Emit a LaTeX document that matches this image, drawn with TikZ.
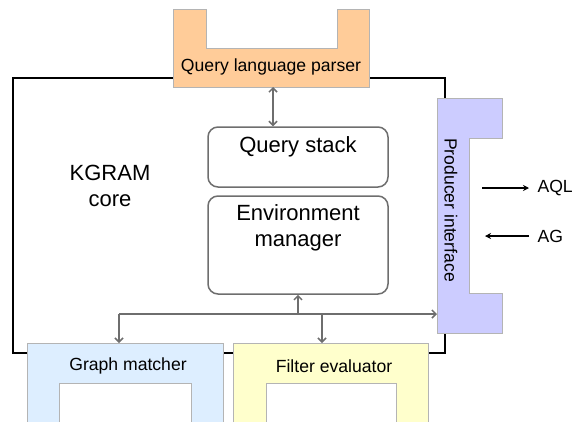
\documentclass[tikz,border=0pt]{standalone}
\usepackage{fontspec}
\setmainfont{Liberation Sans}
\usetikzlibrary{arrows.meta}
\definecolor{parserorange}{HTML}{FFCC99}
\definecolor{prodblue}{HTML}{CCCCFF}
\definecolor{matchblue}{HTML}{DDEEFF}
\definecolor{filteryellow}{HTML}{FFFFCC}
\definecolor{linkgray}{HTML}{6E6E6E}
\definecolor{edgegray}{HTML}{B4B4B4}
\begin{document}
\begin{tikzpicture}[x=1pt,y=-1pt,
  lbl/.style={font=\fontsize{17.6}{21}\selectfont},
  biglbl/.style={font=\fontsize{22}{26}\selectfont,align=center},
  part/.style={draw=edgegray,line width=0.8pt},
  corebox/.style={draw=linkgray,line width=1.5pt,rounded corners=10pt,minimum width=180pt},
  link/.style={draw=linkgray,line width=1.5pt,arrows={-Straight Barb[length=4pt,width=8pt]}},
  ext/.style={draw=black,line width=1.3pt,arrows={-Stealth[length=6pt,width=6pt,inset=2pt]}}]
\useasboundingbox (0,0) rectangle (572,421);
% KGRAM core frame
\draw[line width=1.5pt] (13,78) rectangle (445,353);
\node[biglbl] (core) at (110,186) {KGRAM\\core};
% query language parser
\filldraw[part,fill=parserorange] (173,9) -- (206,9) -- (206,48) -- (337,48) -- (337,9)
  -- (369,9) -- (369,87) -- (173,87) -- cycle;
\node[lbl] (parser) at (271,67) {Query language parser};
\coordinate (parserbot) at (273,87);
% producer interface
\filldraw[part,fill=prodblue] (437,98) -- (502,98) -- (502,138) -- (469,138) -- (469,293)
  -- (502,293) -- (502,333) -- (437,333) -- cycle;
\node[lbl,rotate=-90] (producer) at (451,210) {Producer interface};
% graph matcher
\fill[matchblue] (27,422) -- (27,343) -- (223,343) -- (223,422) -- (191,422) -- (191,383)
  -- (59,383) -- (59,422) -- cycle;
\draw[part] (27,422) -- (27,343) -- (223,343) -- (223,422);
\draw[part] (59,422) -- (59,383) -- (191,383) -- (191,422);
\node[lbl] (matcher) at (128,366) {Graph matcher};
% filter evaluator
\fill[filteryellow] (233,422) -- (233,343) -- (428,343) -- (428,422) -- (396,422) -- (396,383)
  -- (266,383) -- (266,422) -- cycle;
\draw[part] (233,422) -- (233,343) -- (428,343) -- (428,422);
\draw[part] (266,422) -- (266,383) -- (396,383) -- (396,422);
\node[lbl] (filter) at (334,366) {Filter evaluator};
% core boxes
\node[corebox,minimum height=60pt] (qstack) at (298,157) {};
\node[biglbl,anchor=base] at (298,152) {Query stack};
\node[corebox,minimum height=98pt] (envmgr) at (298,245) {};
\node[biglbl,anchor=base] at (298,220) {Environment};
\node[biglbl,anchor=base] at (298,246) {manager};
% bus
\coordinate (busL) at (119,314);
\coordinate (busM) at (298,314);
\coordinate (busF) at (322,314);
\coordinate (gmtop) at (119,343);
\coordinate (fetop) at (322,343);
\coordinate (pileft) at (437,314);
\draw[link,arrows={Straight Barb[length=4pt,width=8pt]-Straight Barb[length=4pt,width=8pt]}]
  (parserbot) -- (parserbot |- qstack.north);
\draw[link] (busM) -- (envmgr.south);
\draw[link] (busL) -- (pileft);
\draw[link] (busL) -- (gmtop);
\draw[link] (busF) -- (fetop);
% external
\node[lbl,anchor=west] (aql) at (534,188) {AQL};
\node[lbl,anchor=west] (ag) at (534,236) {AG};
\coordinate (aqlfrom) at (482,188);
\coordinate (agto) at (485,236);
\draw[ext,shorten >=5pt] (aqlfrom) -- (aql.west);
\draw[ext,shorten <=5pt] (ag.west) -- (agto);
\end{tikzpicture}
\end{document}
